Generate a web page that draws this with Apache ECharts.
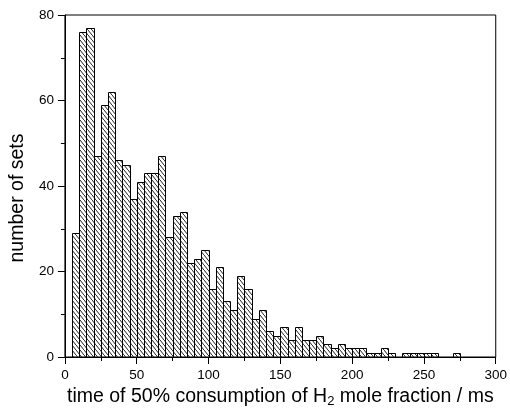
<!DOCTYPE html>
<html>
<head>
<meta charset="utf-8">
<script src="https://cdn.jsdelivr.net/npm/echarts@6/dist/echarts.min.js"></script>
<style>
  html, body { margin: 0; padding: 0; background: #fff; }
  #chart { width: 510px; height: 416px; }
</style>
</head>
<body>
<div id="chart"></div>
<script>
// left edge of each 5 ms bin
const binStarts = [5, 10, 15, 20, 25, 30, 35, 40, 45, 50, 55, 60, 65, 70, 75, 80, 85, 90, 95,
  100, 105, 110, 115, 120, 125, 130, 135, 140, 145, 150, 155, 160, 165, 170, 175, 180, 185, 190, 195,
  200, 205, 210, 215, 220, 225, 230, 235, 240, 245, 250, 255, 260, 265, 270];
// number of sets per bin
const counts = [29, 76, 77, 47, 59, 62, 46, 45, 37, 41, 43, 43, 47, 28, 33, 34, 22, 23, 25,
  16, 21, 13, 11, 19, 16, 9, 11, 6, 5, 7, 4, 7, 4, 4, 5, 3, 2, 3, 2,
  2, 2, 1, 1, 2, 1, 0, 1, 1, 1, 1, 1, 0, 0, 1];
const binWidth = 5;
const xTicks = [0, 50, 100, 150, 200, 250, 300];
const yTicks = [0, 20, 40, 60, 80];

// hatch fill "\\\"
const makeHatch = () => {
  const c = document.createElement("canvas");
  c.width = 4;
  c.height = 5;
  const g = c.getContext("2d");
  g.strokeStyle = "#222";
  g.lineWidth = 1;
  g.beginPath();
  g.moveTo(-1, -1.25);
  g.lineTo(5, 6.25);
  g.stroke();
  return c;
};
const hatch = { image: makeHatch(), repeat: "repeat" };

const chart = echarts.init(document.getElementById("chart"));
const font = "'Liberation Sans', Arial, sans-serif";

chart.setOption({
  animation: false,
  grid: {
    left: 64,
    right: 11,
    top: 15,
    bottom: 59,
    show: true,
    borderColor: "#000",
    borderWidth: 1,
  },
  xAxis: {
    type: "value",
    min: xTicks[0],
    max: xTicks[xTicks.length - 1],
    interval: 50,
    name: "{a|time of 50% consumption of H}{s|2}{a| mole fraction / ms}",
    nameLocation: "middle",
    nameGap: 28,
    nameTextStyle: {
      rich: {
        a: { fontFamily: font, fontSize: 19.5, color: "#000" },
        s: { fontFamily: font, fontSize: 13, color: "#000", padding: [10, 0, 0, 0] },
      },
    },
    axisLine: { lineStyle: { color: "#000", width: 1 } },
    axisTick: { length: 7, lineStyle: { color: "#000" } },
    minorTick: { show: true, splitNumber: 2, length: 4, lineStyle: { color: "#000" } },
    axisLabel: { color: "#000", fontFamily: font, fontSize: 13.5, margin: 11 },
    splitLine: { show: false },
  },
  yAxis: {
    type: "value",
    min: yTicks[0],
    max: yTicks[yTicks.length - 1],
    interval: 20,
    name: "number of sets",
    nameLocation: "middle",
    nameGap: 30,
    nameTextStyle: {
      fontFamily: font,
      fontSize: 19.5,
      color: "#000",
      padding: [0, 24, 0, 0],
    },
    axisLine: { show: true, lineStyle: { color: "#000", width: 1 } },
    axisTick: { show: true, length: 7, lineStyle: { color: "#000" } },
    minorTick: { show: true, splitNumber: 2, length: 4, lineStyle: { color: "#000" } },
    axisLabel: { color: "#000", fontFamily: font, fontSize: 13.5, margin: 11 },
    splitLine: { show: false },
  },
  series: [
    {
      type: "custom",
      data: binStarts.map((x, i) => [x, counts[i]]),
      encode: { x: 0, y: 1 },
      renderItem: (params, api) => {
        const x0 = api.value(0);
        const v = api.value(1);
        if (!v) return null;
        const p0 = api.coord([x0, v]);
        const p1 = api.coord([x0 + binWidth, 0]);
        return {
          type: "rect",
          shape: {
            x: Math.round(p0[0]) + 0.5,
            y: Math.round(p0[1]) + 0.5,
            width: Math.round(p1[0]) - Math.round(p0[0]),
            height: Math.round(p1[1]) - Math.round(p0[1]),
          },
          style: { fill: hatch, stroke: "#000", lineWidth: 1 },
        };
      },
    },
  ],
});
</script>
</body>
</html>
